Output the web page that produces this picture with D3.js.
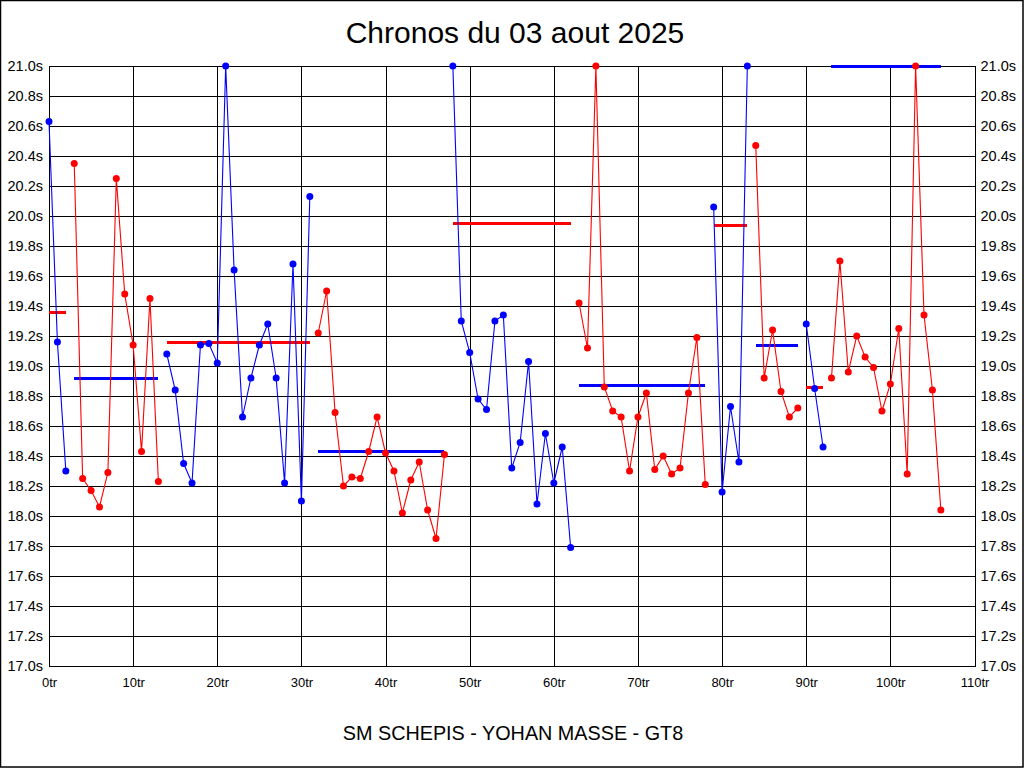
<!DOCTYPE html>
<html>
<head>
<meta charset="utf-8">
<script src="https://cdn.jsdelivr.net/npm/d3@7"></script>
<style>
  html, body { margin: 0; padding: 0; background: #fff; }
  svg { display: block; }
</style>
</head>
<body>
<svg id="chart" width="1024" height="768"></svg>
<script>
// ---- data ----
const titleText = "Chronos du 03 aout 2025";
const footerText = "SM SCHEPIS - YOHAN MASSE - GT8";

// lap times per stint (seconds), each stint starts at the given lap
const stint1 = [20.63, 19.16, 18.30];
const stint2 = [20.35, 18.25, 18.17, 18.06, 18.29, 20.25, 19.48, 19.14, 18.43, 19.45, 18.23];
const stint3 = [19.08, 18.84, 18.35, 18.22, 19.14, 19.15, 19.02, 21.0, 19.64, 18.66, 18.92, 19.14, 19.28, 18.92, 18.22, 19.68, 18.10, 20.13];
const stint4 = [19.22, 19.50, 18.69, 18.20, 18.26, 18.25, 18.43, 18.66, 18.42, 18.30, 18.02, 18.24, 18.36, 18.04, 17.85, 18.41];
const stint5 = [21.0, 19.30, 19.09, 18.78, 18.71, 19.30, 19.34, 18.32, 18.49, 19.03, 18.08, 18.55, 18.22, 18.46, 17.79];
const stint6 = [19.42, 19.12, 21.0, 18.86, 18.70, 18.66, 18.30, 18.66, 18.82, 18.31, 18.40, 18.28, 18.32, 18.82, 19.19, 18.21];
const stint7 = [20.06, 18.16, 18.73, 18.36, 21.0];
const stint8 = [20.47, 18.92, 19.24, 18.83, 18.66, 18.72];
const stint9 = [19.28, 18.85, 18.46];
const stint10 = [18.92, 19.70, 18.96, 19.20, 19.06, 18.99, 18.70, 18.88, 19.25, 18.28, 21.0, 19.34, 18.84, 18.04];

const stints = [stint1, stint2, stint3, stint4, stint5, stint6, stint7, stint8, stint9, stint10];
const stintStarts = [0, 3, 14, 32, 48, 63, 79, 84, 90, 93];
const stintColors = ["#0000ff", "#ff0000", "#0000ff", "#ff0000", "#0000ff", "#ff0000", "#0000ff", "#ff0000", "#0000ff", "#ff0000"];

// average line per stint
const avgValues = [19.36, 18.92, 19.16, 18.43, 19.95, 18.87, 19.94, 19.14, 18.86, 21.0];
const avgColors = ["#ff0000", "#0000ff", "#ff0000", "#0000ff", "#ff0000", "#0000ff", "#ff0000", "#0000ff", "#ff0000", "#0000ff"];

const xTicks = [0, 10, 20, 30, 40, 50, 60, 70, 80, 90, 100, 110];
const yTicks = [17.0, 17.2, 17.4, 17.6, 17.8, 18.0, 18.2, 18.4, 18.6, 18.8, 19.0, 19.2, 19.4, 19.6, 19.8, 20.0, 20.2, 20.4, 20.6, 20.8, 21.0];

// ---- layout ----
const W = 1024, H = 768;
const plot = { left: 49, right: 974.5, top: 66, bottom: 666 };

const svg = d3.select("#chart");
const x = d3.scaleLinear().domain([0, 110]).range([plot.left, plot.right]);
const y = d3.scaleLinear().domain([17, 21]).range([plot.bottom, plot.top]);

// outer frame
svg.append("rect").attr("x", 0.5).attr("y", 0.5).attr("width", W - 1.5).attr("height", H - 1.5)
  .attr("fill", "#fff").attr("stroke", "#000").attr("stroke-width", 1.5);

// title
svg.append("text").attr("x", 515).attr("y", 43).attr("text-anchor", "middle")
  .attr("font-family", "Liberation Sans, Arial, sans-serif").attr("font-size", 30)
  .attr("fill", "#000").text(titleText);

// footer
svg.append("text").attr("x", 513).attr("y", 740).attr("text-anchor", "middle")
  .attr("font-family", "Liberation Sans, Arial, sans-serif").attr("font-size", 19.8)
  .attr("fill", "#000").text(footerText);

// grid
const grid = svg.append("g").attr("shape-rendering", "crispEdges");
grid.selectAll("line.h").data(yTicks).join("line").attr("class", "h")
  .attr("x1", plot.left).attr("x2", plot.right)
  .attr("y1", d => Math.round(y(d)) + 0.5).attr("y2", d => Math.round(y(d)) + 0.5)
  .attr("stroke", "#000").attr("stroke-width", 1);
grid.selectAll("line.v").data(xTicks).join("line").attr("class", "v")
  .attr("y1", plot.top).attr("y2", plot.bottom)
  .attr("x1", d => Math.round(x(d)) + 0.5).attr("x2", d => Math.round(x(d)) + 0.5)
  .attr("stroke", "#000").attr("stroke-width", 1);

// axes
const fmtY = d => d3.format(".1f")(d) + "s";
const yLeft = d3.axisLeft(y).tickValues(yTicks).tickFormat(fmtY).tickSize(0).tickPadding(5);
const yRight = d3.axisRight(y).tickValues(yTicks).tickFormat(fmtY).tickSize(0).tickPadding(5);
const xBottom = d3.axisBottom(x).tickValues(xTicks).tickFormat(d => d + "tr").tickSize(0).tickPadding(12);

function styleAxis(g, size) {
  g.select(".domain").remove();
  g.selectAll("text").attr("font-family", "Liberation Sans, Arial, sans-serif")
    .attr("font-size", size).attr("fill", "#000");
}
svg.append("g").attr("transform", `translate(${plot.left - 1},0)`).call(yLeft).call(g => styleAxis(g, 14.5));
svg.append("g").attr("transform", `translate(${plot.right + 1},0)`).call(yRight).call(g => styleAxis(g, 14.5));
svg.append("g").attr("transform", `translate(0,${plot.bottom})`).call(xBottom).call(g => styleAxis(g, 13));

// plot border
svg.append("rect").attr("x", plot.left + 0.5).attr("y", plot.top + 0.5)
  .attr("width", plot.right - plot.left).attr("height", plot.bottom - plot.top)
  .attr("fill", "none").attr("stroke", "#000").attr("stroke-width", 1).attr("shape-rendering", "crispEdges");

// average lines
const avgData = stints.map((s, i) => ({
  start: stintStarts[i], end: stintStarts[i] + s.length - 1, v: avgValues[i], c: avgColors[i]
}));
svg.append("g").selectAll("line").data(avgData).join("line")
  .attr("x1", d => x(d.start)).attr("x2", d => x(d.end))
  .attr("y1", d => y(d.v)).attr("y2", d => y(d.v))
  .attr("stroke", d => d.c).attr("stroke-width", 3).attr("shape-rendering", "crispEdges");

// series
const line = d3.line().x(d => x(d.lap)).y(d => y(d.v));
stints.forEach((s, i) => {
  const pts = s.map((v, j) => ({ lap: stintStarts[i] + j, v }));
  const g = svg.append("g");
  g.append("path").datum(pts).attr("d", line).attr("fill", "none")
    .attr("stroke", stintColors[i]).attr("stroke-width", 1.1);
  g.selectAll("circle").data(pts).join("circle")
    .attr("cx", d => x(d.lap)).attr("cy", d => y(d.v)).attr("r", 3.5)
    .attr("fill", stintColors[i]);
});
</script>
</body>
</html>
